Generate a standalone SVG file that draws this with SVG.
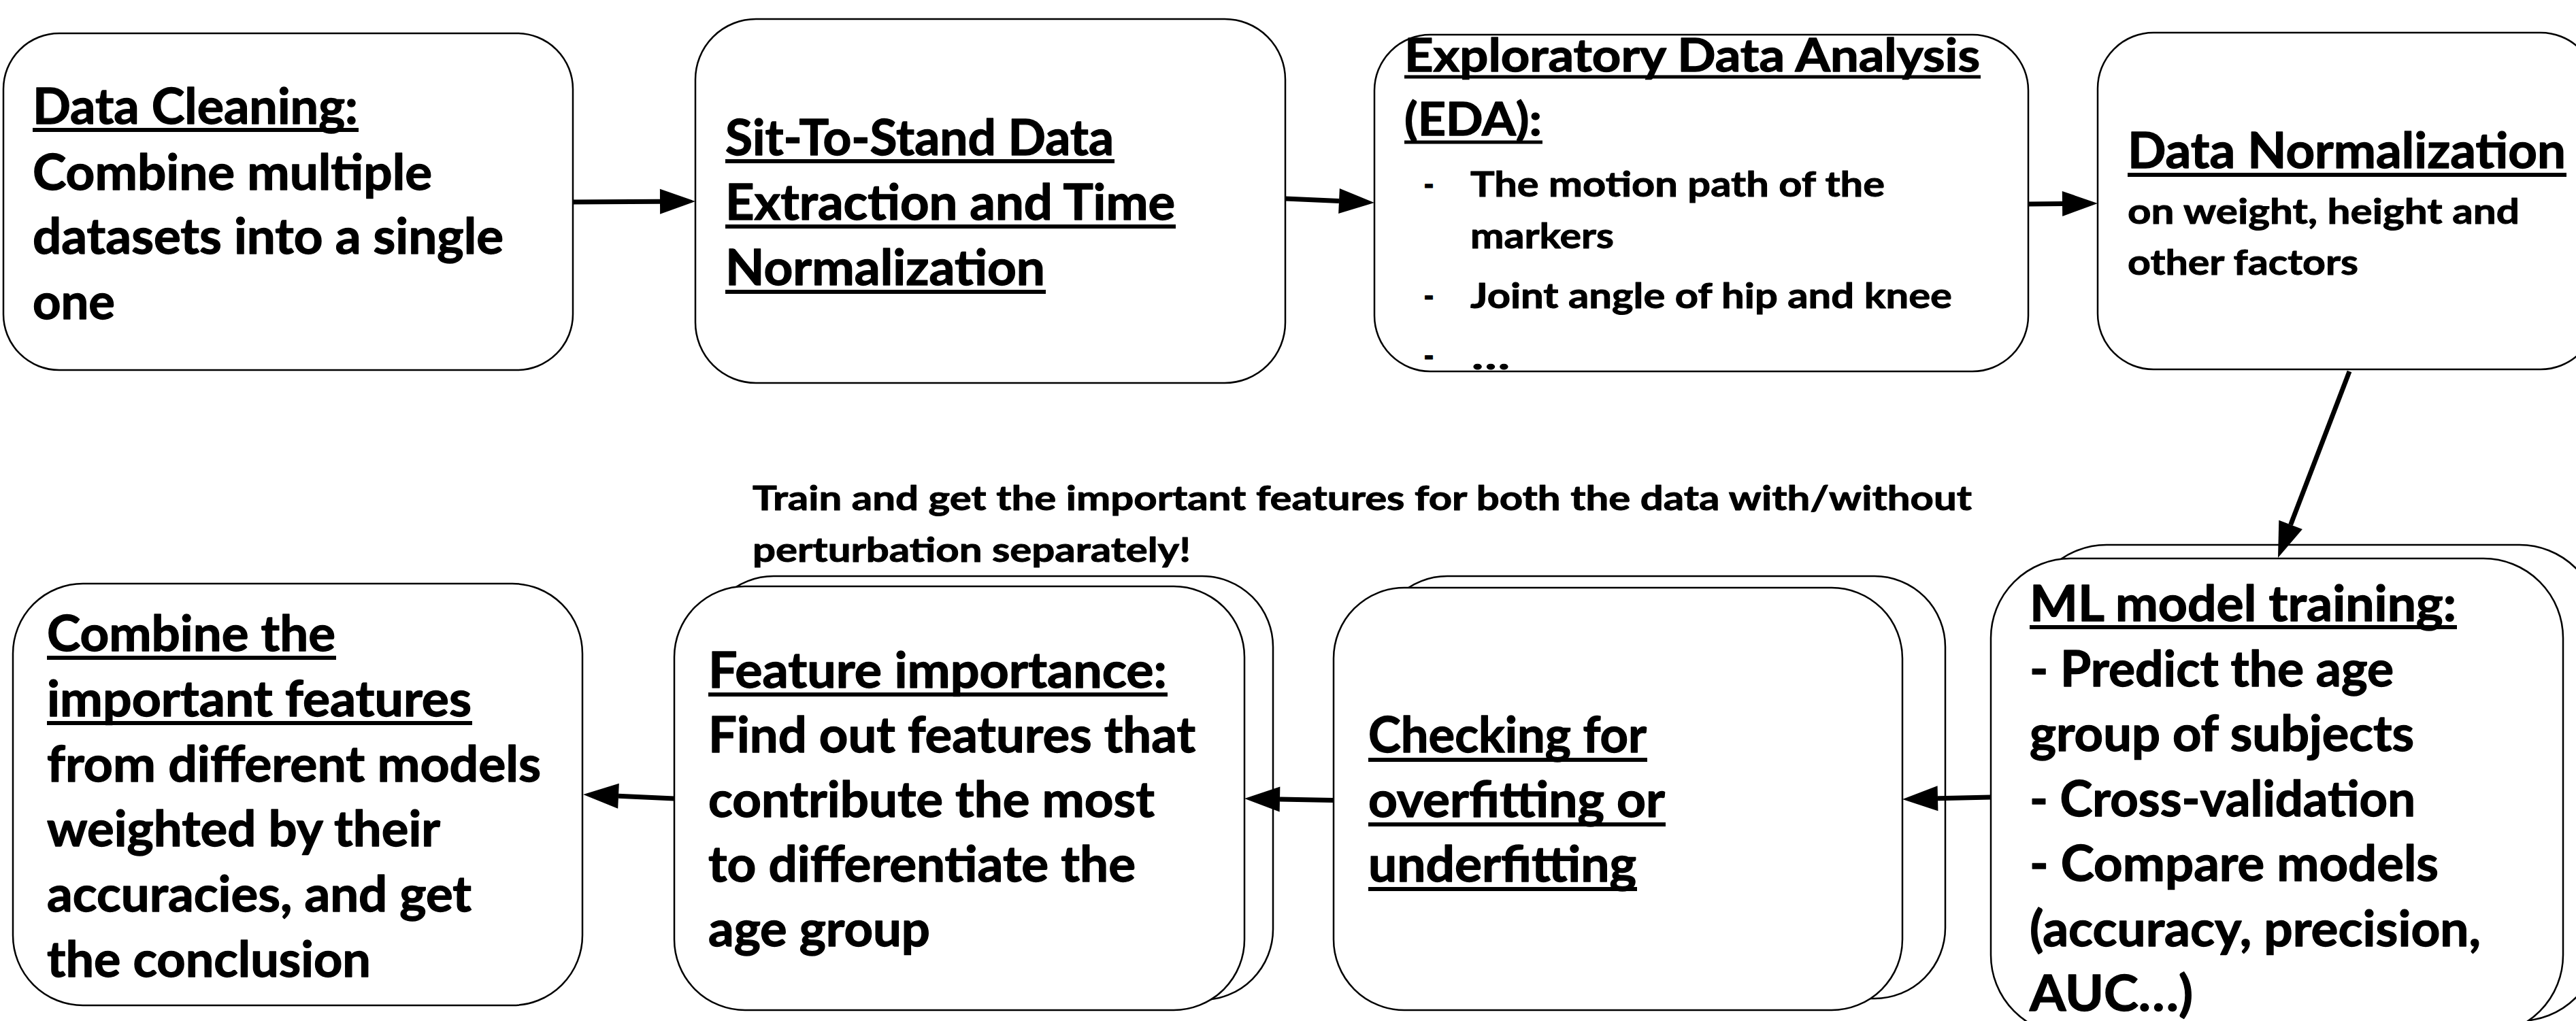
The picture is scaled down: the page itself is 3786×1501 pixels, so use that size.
<svg xmlns="http://www.w3.org/2000/svg" width="3786" height="1501" viewBox="0 0 3786 1501">
  <style>
    .box { fill: #ffffff; stroke: #000000; stroke-width: 2.5; }
    .t { font-family: "Lato", "Open Sans", sans-serif; font-weight: bold; fill: #000000; stroke: #000000; stroke-width: 1.3; stroke-linejoin: round; }
    .big { font-size: 72px; }
    .mid { font-size: 66px; }
    .small { font-size: 52px; stroke-width: 1; }
    .note { font-size: 50px; stroke-width: 1; }
    .ul { stroke: #000000; stroke-width: 6; }
    .ul-s { stroke: #000000; stroke-width: 5; }
    .edge { fill: none; stroke: #000000; stroke-width: 7; marker-end: url(#head); }
  </style>
  <defs>
    <marker id="head" markerUnits="userSpaceOnUse" markerWidth="52" markerHeight="37" refX="0" refY="18.5" orient="auto" overflow="visible">
      <path d="M0,0 L52,18.5 L0,37 Z" fill="#000000"/>
    </marker>
  </defs>
  <rect width="3786" height="1501" fill="#ffffff"/>

  <!-- top row -->
  <g id="data-cleaning">
    <rect class="box" x="5" y="49" width="837" height="495" rx="82" ry="82"/>
    <text class="t big" x="48" y="182" textLength="478" lengthAdjust="spacingAndGlyphs">Data Cleaning:</text>
    <line class="ul" x1="48" y1="191" x2="527" y2="191"/>
    <text class="t big" x="48" y="279" textLength="587" lengthAdjust="spacingAndGlyphs">Combine multiple</text>
    <text class="t big" x="48" y="373" textLength="692" lengthAdjust="spacingAndGlyphs">datasets into a single</text>
    <text class="t big" x="48" y="469" textLength="121" lengthAdjust="spacingAndGlyphs">one</text>
  </g>

  <g id="sts-extraction">
    <rect class="box" x="1022" y="28" width="867" height="535" rx="89" ry="89"/>
    <text class="t big" x="1066" y="228" textLength="571" lengthAdjust="spacingAndGlyphs">Sit-To-Stand Data</text>
    <line class="ul" x1="1066" y1="237" x2="1638" y2="237"/>
    <text class="t big" x="1066" y="323" textLength="661" lengthAdjust="spacingAndGlyphs">Extraction and Time</text>
    <line class="ul" x1="1066" y1="333" x2="1728" y2="333"/>
    <text class="t big" x="1066" y="419" textLength="470" lengthAdjust="spacingAndGlyphs">Normalization</text>
    <line class="ul" x1="1066" y1="429" x2="1537" y2="429"/>
  </g>

  <g id="eda">
    <rect class="box" x="2020" y="51" width="961" height="495" rx="82" ry="82"/>
    <text class="t mid" x="2064" y="105" textLength="846" lengthAdjust="spacingAndGlyphs">Exploratory Data Analysis</text>
    <line class="ul-s" x1="2064" y1="113" x2="2911" y2="113"/>
    <text class="t mid" x="2064" y="199" textLength="202" lengthAdjust="spacingAndGlyphs">(EDA):</text>
    <line class="ul-s" x1="2064" y1="209" x2="2267" y2="209"/>
    <text class="t small" x="2092" y="289" textLength="16" lengthAdjust="spacingAndGlyphs">-</text>
    <text class="t small" x="2161" y="289" textLength="609" lengthAdjust="spacingAndGlyphs">The motion path of the</text>
    <text class="t small" x="2161" y="365" textLength="211" lengthAdjust="spacingAndGlyphs">markers</text>
    <text class="t small" x="2092" y="453" textLength="16" lengthAdjust="spacingAndGlyphs">-</text>
    <text class="t small" x="2161" y="453" textLength="708" lengthAdjust="spacingAndGlyphs">Joint angle of hip and knee</text>
    <text class="t small" x="2092" y="541" textLength="16" lengthAdjust="spacingAndGlyphs">-</text>
    <text class="t small" x="2163" y="543" textLength="56" lengthAdjust="spacingAndGlyphs">…</text>
  </g>

  <g id="data-normalization">
    <rect class="box" x="3083" y="48" width="733" height="495" rx="82" ry="82"/>
    <text class="t big" x="3127" y="247" textLength="644" lengthAdjust="spacingAndGlyphs">Data Normalization</text>
    <line class="ul" x1="3127" y1="257" x2="3772" y2="257"/>
    <text class="t small" x="3127" y="329" textLength="576" lengthAdjust="spacingAndGlyphs">on weight, height and</text>
    <text class="t small" x="3127" y="404" textLength="339" lengthAdjust="spacingAndGlyphs">other factors</text>
  </g>

  <!-- bottom row -->
  <g id="ml-training">
    <rect class="box" x="2979" y="801" width="841" height="700" rx="117" ry="117"/>
    <rect class="box" x="2926" y="821" width="841" height="700" rx="117" ry="117"/>
    <text class="t big" x="2983" y="913" textLength="627" lengthAdjust="spacingAndGlyphs">ML model training:</text>
    <line class="ul" x1="2983" y1="922" x2="3611" y2="922"/>
    <text class="t big" x="2983" y="1008.5" textLength="535" lengthAdjust="spacingAndGlyphs">- Predict the age</text>
    <text class="t big" x="2983" y="1104" textLength="565" lengthAdjust="spacingAndGlyphs">group of subjects</text>
    <text class="t big" x="2983" y="1199.5" textLength="567" lengthAdjust="spacingAndGlyphs">- Cross-validation</text>
    <text class="t big" x="2983" y="1295" textLength="601" lengthAdjust="spacingAndGlyphs">- Compare models</text>
    <text class="t big" x="2983" y="1390.5" textLength="663" lengthAdjust="spacingAndGlyphs">(accuracy, precision,</text>
    <text class="t big" x="2983" y="1486" textLength="240" lengthAdjust="spacingAndGlyphs">AUC…)</text>
  </g>

  <g id="fit-check">
    <rect class="box" x="2023" y="847" width="836" height="621" rx="104" ry="104"/>
    <rect class="box" x="1960" y="864" width="836" height="621" rx="104" ry="104"/>
    <text class="t big" x="2011" y="1106" textLength="409" lengthAdjust="spacingAndGlyphs">Checking for</text>
    <line class="ul" x1="2011" y1="1117" x2="2421" y2="1117"/>
    <text class="t big" x="2011" y="1201" textLength="436" lengthAdjust="spacingAndGlyphs">overfitting or</text>
    <line class="ul" x1="2011" y1="1212" x2="2448" y2="1212"/>
    <text class="t big" x="2011" y="1296" textLength="394" lengthAdjust="spacingAndGlyphs">underfitting</text>
    <line class="ul" x1="2011" y1="1307" x2="2406" y2="1307"/>
  </g>

  <g id="feature-importance">
    <rect class="box" x="1033" y="847" width="838" height="623" rx="104" ry="104"/>
    <rect class="box" x="991" y="862" width="838" height="623" rx="104" ry="104"/>
    <text class="t big" x="1041" y="1011" textLength="674" lengthAdjust="spacingAndGlyphs">Feature importance:</text>
    <line class="ul" x1="1041" y1="1021" x2="1716" y2="1021"/>
    <text class="t big" x="1041" y="1106" textLength="716" lengthAdjust="spacingAndGlyphs">Find out features that</text>
    <text class="t big" x="1041" y="1201" textLength="656" lengthAdjust="spacingAndGlyphs">contribute the most</text>
    <text class="t big" x="1041" y="1296" textLength="628" lengthAdjust="spacingAndGlyphs">to differentiate the</text>
    <text class="t big" x="1041" y="1391" textLength="326" lengthAdjust="spacingAndGlyphs">age group</text>
  </g>

  <g id="combine-features">
    <rect class="box" x="19" y="858" width="837" height="620" rx="103" ry="103"/>
    <text class="t big" x="69" y="957" textLength="424" lengthAdjust="spacingAndGlyphs">Combine the</text>
    <line class="ul" x1="69" y1="967" x2="494" y2="967"/>
    <text class="t big" x="69" y="1052.8" textLength="624" lengthAdjust="spacingAndGlyphs">important features</text>
    <line class="ul" x1="69" y1="1063" x2="694" y2="1063"/>
    <text class="t big" x="69" y="1148.6" textLength="726" lengthAdjust="spacingAndGlyphs">from different models</text>
    <text class="t big" x="69" y="1244.4" textLength="578" lengthAdjust="spacingAndGlyphs">weighted by their</text>
    <text class="t big" x="69" y="1340.2" textLength="624" lengthAdjust="spacingAndGlyphs">accuracies, and get</text>
    <text class="t big" x="69" y="1436" textLength="476" lengthAdjust="spacingAndGlyphs">the conclusion</text>
  </g>

  <g id="note">
    <text class="t note" x="1106" y="750" textLength="1792" lengthAdjust="spacingAndGlyphs">Train and get the important features for both the data with/without</text>
    <text class="t note" x="1106" y="826" textLength="644" lengthAdjust="spacingAndGlyphs">perturbation separately!</text>
  </g>

  <!-- flow arrows -->
  <g id="connectors">
    <path class="edge" d="M842,297 L970,296.3"/>
    <path class="edge" d="M1889,292 L1968,295.6"/>
    <path class="edge" d="M2981,300 L3031,299.5"/>
    <path class="edge" d="M3453,546 L3366.6,771.4"/>
    <path class="edge" d="M2926,1172 L2848,1173.8"/>
    <path class="edge" d="M1960,1176.5 L1881,1175"/>
    <path class="edge" d="M991,1174 L909,1170.3"/>
  </g>
</svg>
